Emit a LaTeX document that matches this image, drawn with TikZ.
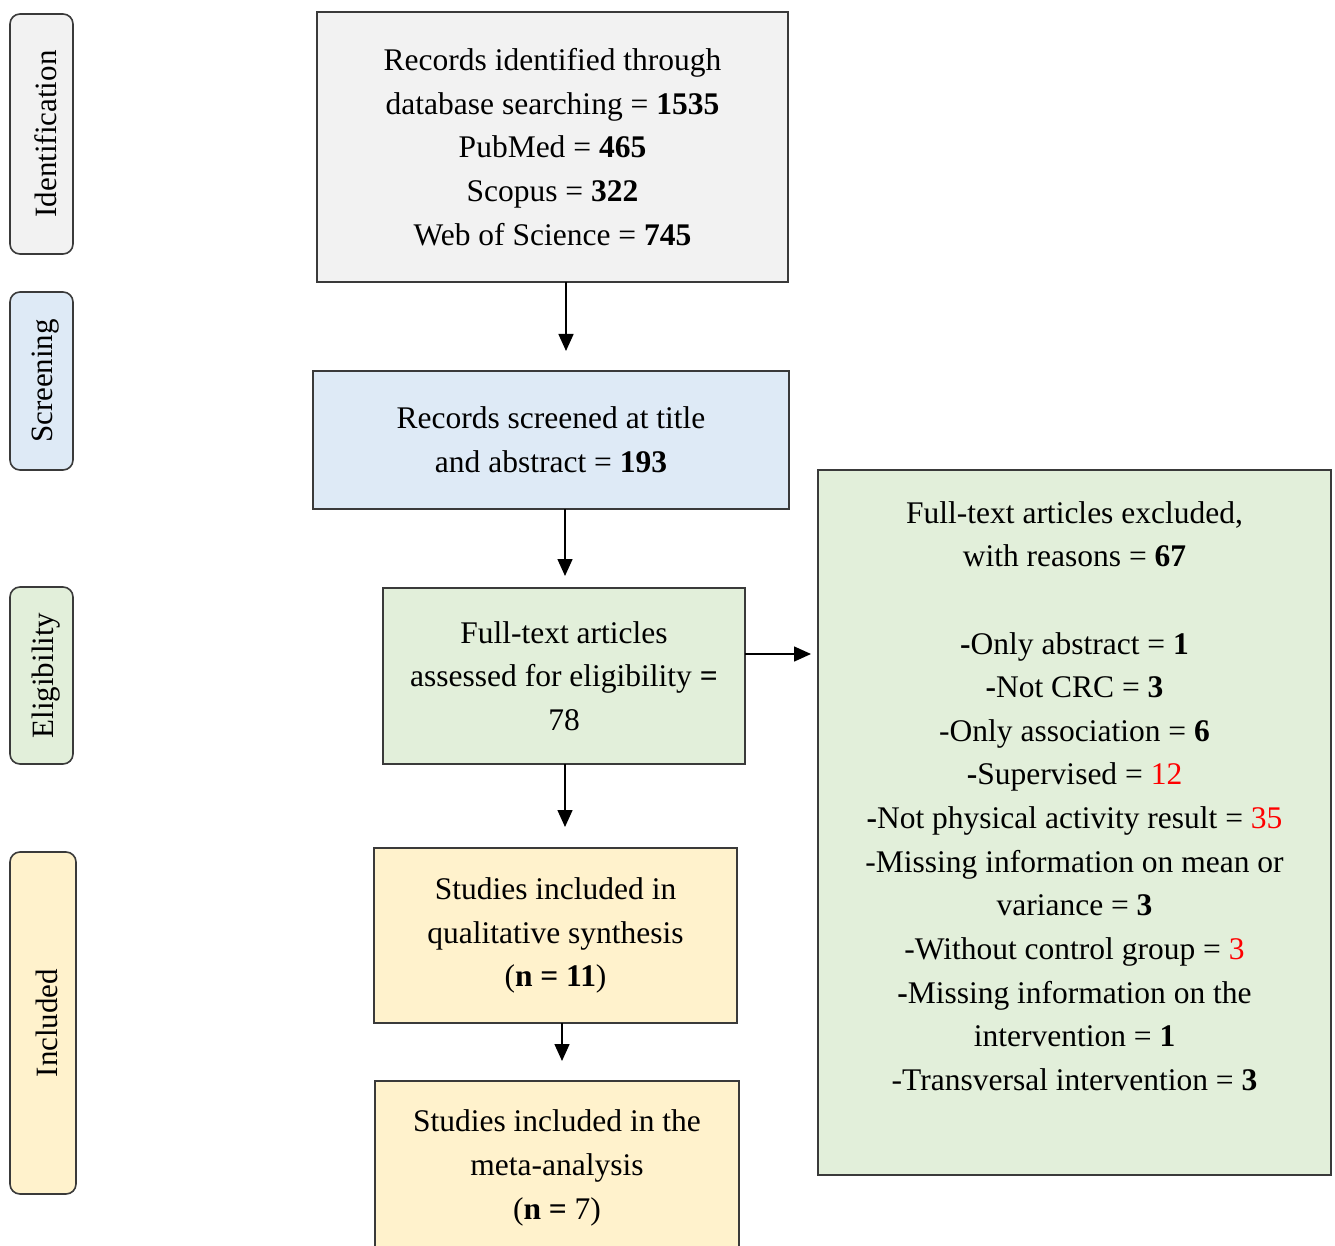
\documentclass[tikz,border=0pt]{standalone}
\usepackage{fontspec}
\setmainfont{Liberation Serif}
\usetikzlibrary{arrows.meta}
\definecolor{grayfill}{HTML}{F2F2F2}
\definecolor{bluefill}{HTML}{DEEAF6}
\definecolor{greenfill}{HTML}{E2EFDA}
\definecolor{yellowfill}{HTML}{FFF2CC}
\definecolor{edge}{HTML}{3A3A3A}
\definecolor{numred}{HTML}{FF0000}
\begin{document}
\begin{tikzpicture}[x=1pt,y=-1pt,
  txt/.style={font=\fontsize{31.5}{43.6}\selectfont, align=center, text=black},
  box/.style={draw=edge, line width=1.6pt, rectangle, inner sep=0pt, txt},
  side/.style={draw=edge, line width=1.6pt, rectangle, rounded corners=10pt, inner sep=0pt, rotate=90},
  sidetxt/.style={rotate=90, inner sep=0pt, font=\fontsize{31}{34}\selectfont, text=black},
  arr/.style={line width=1.5pt, -{Triangle[length=17pt,width=15pt]}}
]
\useasboundingbox (0,0) rectangle (1335,1246);
\clip (0,0) rectangle (1335,1246);

% side labels
\node[side, fill=grayfill, minimum width=240, minimum height=63] (sid) at (41.5,134) {};
\node[sidetxt] (sidt) at (46,134) {Identification};
\node[side, fill=bluefill, minimum width=178, minimum height=63] (sscr) at (41.5,381) {};
\node[sidetxt] (sscrt) at (46,381) {Screening};
\node[side, fill=greenfill, minimum width=177, minimum height=63] (selig) at (41.5,675.5) {};
\node[sidetxt] (seligt) at (46,675.5) {Eligibility};
\node[side, fill=yellowfill, minimum width=342, minimum height=66] (sinc) at (43,1023) {};
\node[sidetxt] (sinct) at (47,1023) {Included};

% main boxes
\node[box, fill=grayfill, minimum width=471, minimum height=270] (b1) at (552.5,147)
  {Records identified through\\ database searching = \textbf{1535}\\ PubMed = \textbf{465}\\ Scopus = \textbf{322}\\ Web of Science = \textbf{745}};
\node[box, fill=bluefill, minimum width=476, minimum height=138] (b2) at (551,440)
  {Records screened at title\\ and abstract = \textbf{193}};
\node[box, fill=greenfill, minimum width=362, minimum height=176] (b3) at (564,676)
  {Full-text articles\\ assessed for eligibility \textbf{=}\\ 78};
\node[box, fill=yellowfill, minimum width=363, minimum height=175] (b4) at (555.5,935.5)
  {Studies included in\\ qualitative synthesis\\ (\textbf{n = 11})};
\node[box, fill=yellowfill, minimum width=364, minimum height=200, anchor=north] (b5) at (557,1080)
  {};
\node[txt] (b5t) at (557,1168) {Studies included in the\\ meta-analysis\\ (\textbf{n =} 7)};

% exclusion box
\node[box, fill=greenfill, minimum width=513, minimum height=705] (ex) at (1074.5,822.5) {};
\node[txt, anchor=north] (ext) at (1074.5,498)
  {Full-text articles excluded,\\ with reasons = \textbf{67}\\ \mbox{}\\
   \textbf{-}Only abstract = \textbf{1}\\
   \textbf{-}Not CRC = \textbf{3}\\
   -Only association = \textbf{6}\\
   \textbf{-}Supervised = \textcolor{numred}{12}\\
   \textbf{-}Not physical activity result = \textcolor{numred}{35}\\
   -Missing information on mean or\\
   variance = \textbf{3}\\
   -Without control group = \textcolor{numred}{3}\\
   \textbf{-}Missing information on the\\
   intervention = \textbf{1}\\
   -Transversal intervention = \textbf{3}};

% arrow end points
\coordinate (t1s) at (566,282);
\coordinate (t1e) at (566,351);
\coordinate (t2s) at (565,509);
\coordinate (t2e) at (565,576);
\coordinate (t3s) at (565,764);
\coordinate (t3e) at (565,827);
\coordinate (t4s) at (562,1023);
\coordinate (t4e) at (562,1061);
\coordinate (t5s) at (745,654);
\coordinate (t5e) at (811,654);

\draw[arr] (t1s) -- (t1e);
\draw[arr] (t2s) -- (t2e);
\draw[arr] (t3s) -- (t3e);
\draw[arr] (t4s) -- (t4e);
\draw[arr] (t5s) -- (t5e);
\end{tikzpicture}
\end{document}
